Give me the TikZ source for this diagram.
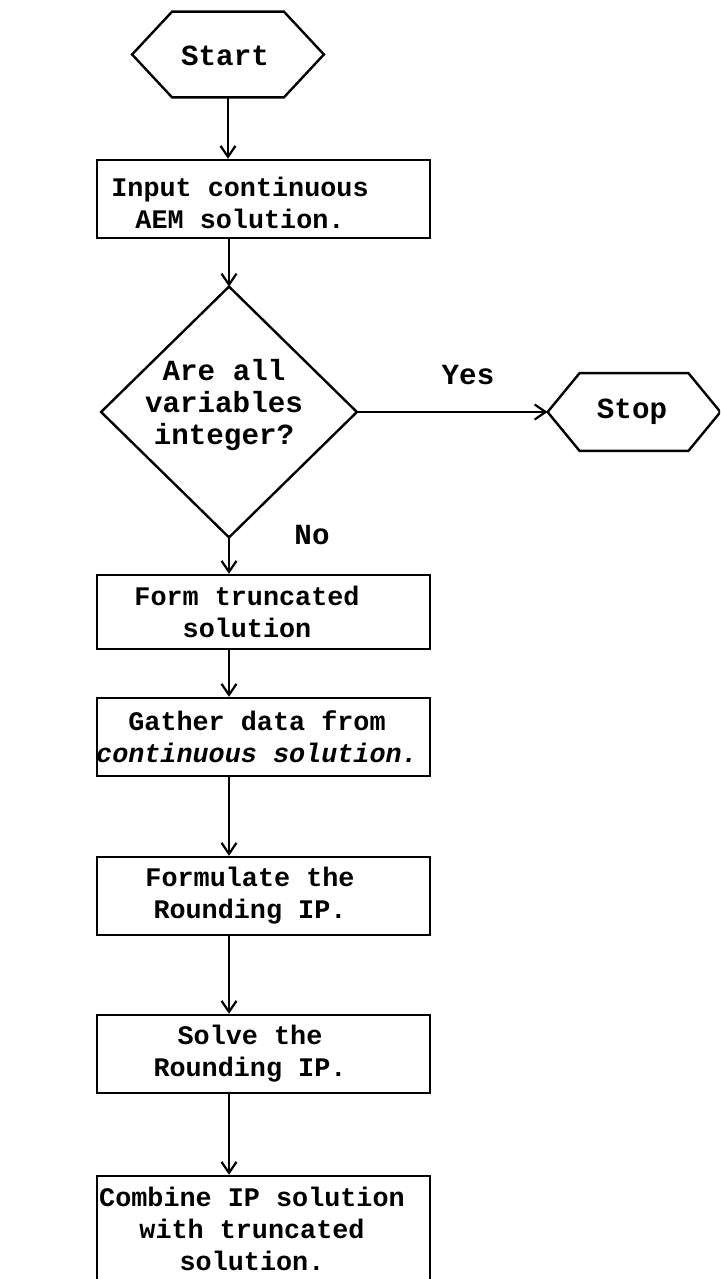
\documentclass[tikz,border=0pt]{standalone}
\usepackage{fontspec}
\setmonofont{Liberation Mono}
\usetikzlibrary{arrows.meta}
\begin{document}
\begin{tikzpicture}[x=0.5pt,y=-0.5pt,
  lbl/.style={inner sep=0pt, align=center, font=\ttfamily\bfseries\fontsize{14.6}{16}\selectfont},
  boxtext/.style={inner sep=0pt, align=center, font=\ttfamily\bfseries\fontsize{13.4}{16}\selectfont},
  boxframe/.style={draw, line width=1.2pt, inner sep=0pt, minimum width=166.5pt, minimum height=#1},
  boxframe/.default=39pt,
  hexframe/.style={inner sep=0pt},
  arr/.style={line width=1.1pt, -{Straight Barb[length=5.5pt,width=7.5pt,line width=1.1pt]}},
  edge/.style={line width=1.2pt, line join=miter}]
\useasboundingbox (0,0) rectangle (720,1279);
\clip (0,0) rectangle (720,1279);

% start terminal
\node[hexframe, minimum width=95.5pt, minimum height=42.5pt] (start) at (228,54.5) {};
\draw[edge] (start.west) -- ([xshift=20pt]start.north west) -- ([xshift=-20pt]start.north east)
  -- (start.east) -- ([xshift=-20pt]start.south east) -- ([xshift=20pt]start.south west) -- cycle;
\node[lbl] (tstart) at (225,56) {Start};

% process boxes
\node[boxframe] (b1) at (263.5,199) {};
\node[boxtext] (t1) at (240,203) {Input continuous\\AEM solution.};

% decision
\node[inner sep=0pt, minimum width=127.5pt, minimum height=125pt] (dia) at (229,412) {};
\draw[edge] (dia.north) -- (dia.east) -- (dia.south) -- (dia.west) -- cycle;
\node[lbl] (tdia) at (224,405) {Are all\\variables\\integer?};

% stop terminal
\node[hexframe, minimum width=86pt, minimum height=38.5pt] (stop) at (634,412) {};
\draw[edge] (stop.west) -- ([xshift=16pt]stop.north west) -- ([xshift=-16pt]stop.north east)
  -- (stop.east) -- ([xshift=-16pt]stop.south east) -- ([xshift=16pt]stop.south west) -- cycle;
\node[lbl] (tstop) at (632,412) {Stop};

\node[lbl] (yes) at (468,375) {Yes};
\node[lbl] (no) at (312,535) {No};

\node[boxframe=37pt] (b2) at (263.5,612) {};
\node[boxtext] (t2) at (247,612) {Form truncated\\solution};

\node[boxframe] (b3) at (263.5,737) {};
\node[boxtext] (t3) at (257,737) {Gather data from\\\itshape continuous solution.};

\node[boxframe] (b4) at (263.5,896) {};
\node[boxtext] (t4) at (250,896) {Formulate the\\Rounding IP.};

\node[boxframe] (b5) at (263.5,1054) {};
\node[boxtext] (t5) at (250,1054) {Solve the\\Rounding IP.};

\node[boxframe=60pt] (b6) at (263.5,1236) {};
\node[boxtext] (t6) at (252,1229) {Combine IP solution\\with truncated\\solution.};

% connectors
\draw[arr] (start.south) -- (start.south |- b1.north);
\draw[arr] (dia.north |- b1.south) -- (dia.north);
\draw[arr] (dia.east) -- (stop.west);
\draw[arr] (dia.south) -- (dia.south |- b2.north);
\draw[arr] (dia.south |- b2.south) -- (dia.south |- b3.north);
\draw[arr] (dia.south |- b3.south) -- (dia.south |- b4.north);
\draw[arr] (dia.south |- b4.south) -- (dia.south |- b5.north);
\draw[arr] (dia.south |- b5.south) -- (dia.south |- b6.north);
\end{tikzpicture}
\end{document}
